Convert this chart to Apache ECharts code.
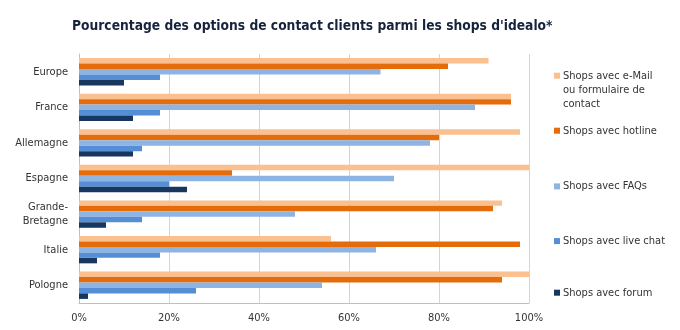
<!DOCTYPE html>
<html>
<head>
<meta charset="utf-8">
<script src="https://cdn.jsdelivr.net/npm/echarts@6/dist/echarts.min.js"></script>
<style>
html,body{margin:0;padding:0;background:#fff;}
#c{width:680px;height:330px;}
</style>
</head>
<body>
<div id="c"></div>
<script>
const categories = ['Europe', 'France', 'Allemagne', 'Espagne', 'Grande-\nBretagne', 'Italie', 'Pologne'];
const seriesNames = [
  'Shops avec e-Mail ou formulaire de contact',
  'Shops avec hotline',
  'Shops avec FAQs',
  'Shops avec live chat',
  'Shops avec forum'
];
const emailValues = [91, 96, 98, 100, 94, 56, 100];
const hotlineValues = [82, 96, 80, 34, 92, 98, 94];
const faqValues = [67, 88, 78, 70, 48, 66, 54];
const liveChatValues = [18, 18, 14, 20, 14, 18, 26];
const forumValues = [10, 12, 12, 24, 6, 4, 2];
const tickValues = [0, 20, 40, 60, 80, 100];

const colors = ['#FAC090', '#E46C0A', '#8EB4E3', '#558ED5', '#17375E'];
const FONT = '"DejaVu Sans Condensed", "DejaVu Sans", sans-serif';
const allValues = [emailValues, hotlineValues, faqValues, liveChatValues, forumValues];

const legendCenters = [75.7, 130.7, 186.4, 241.1, 292.7];
const legends = seriesNames.map((n, i) => {
  const multi = i === 0;
  return {
    data: [n],
    orient: 'vertical',
    left: 554,
    top: multi ? legendCenters[i] - 35 : legendCenters[i] - 7,
    padding: 0,
    itemWidth: 6,
    itemHeight: 6,
    itemGap: 0,
    icon: 'rect',
    selectedMode: false,
    formatter: multi ? () => '\n\nShops avec e-Mail\nou formulaire de\ncontact' : undefined,
    textStyle: {
      fontFamily: FONT,
      fontSize: 11,
      color: '#333',
      lineHeight: 14,
      padding: [0, 0, 0, -2]
    }
  };
});

const chart = echarts.init(document.getElementById('c'), null, {renderer: 'canvas'});
chart.setOption({
  animation: false,
  backgroundColor: '#fff',
  title: {
    text: "Pourcentage des options de contact clients parmi les shops d'idealo*",
    left: 72,
    top: 19,
    padding: 0,
    textStyle: {fontFamily: FONT, fontSize: 13.7, fontWeight: 'bold', color: '#17233D'}
  },
  legend: legends,
  grid: {left: 79, right: 151, top: 54, bottom: 27, containLabel: false},
  xAxis: {
    type: 'value',
    min: 0, max: 100, interval: 20,
    axisLine: {show: true, lineStyle: {color: '#BFBFBF'}},
    axisTick: {show: false},
    splitLine: {show: true, lineStyle: {color: '#D4D4D4', width: 1}},
    axisLabel: {
      margin: 10,
      fontFamily: FONT, fontSize: 11, color: '#333',
      formatter: v => tickValues.includes(v) ? v + '%' : ''
    }
  },
  yAxis: {
    type: 'category',
    inverse: true,
    data: categories,
    axisLine: {show: true, lineStyle: {color: '#BFBFBF'}},
    axisTick: {show: false},
    splitLine: {show: false},
    axisLabel: {margin: 11, fontFamily: FONT, fontSize: 11, color: '#333', lineHeight: 14}
  },
  series: seriesNames.map((n, i) => ({
    name: n,
    type: 'bar',
    data: allValues[i],
    barGap: '0%',
    barCategoryGap: '23%',
    itemStyle: {color: colors[i]},
    emphasis: {disabled: true}
  }))
});
</script>
</body>
</html>
